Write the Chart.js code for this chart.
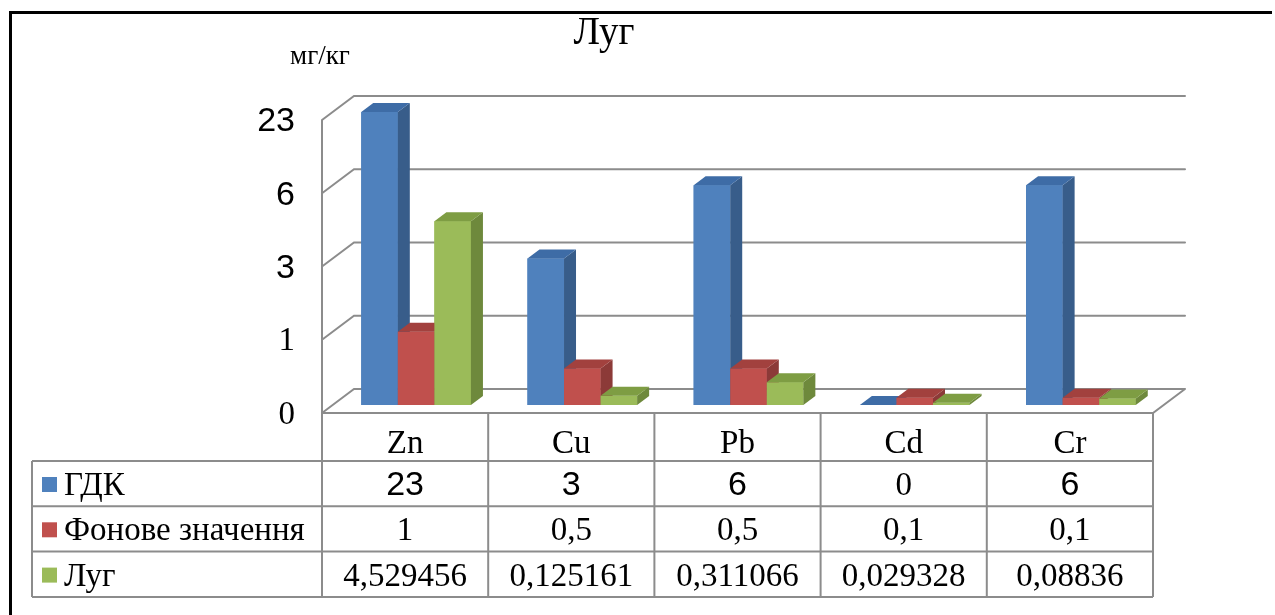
<!DOCTYPE html>
<html lang="uk">
<head>
<meta charset="utf-8">
<title>Луг</title>
<script src="https://cdn.jsdelivr.net/npm/chart.js@4.4.1/dist/chart.umd.min.js"></script>
<style>
  html, body { margin: 0; padding: 0; background: #ffffff; }
  #wrap { width: 1275px; height: 615px; position: relative; }
  canvas { display: block; }
</style>
</head>
<body>
<div id="wrap"><canvas id="chart" width="1275" height="615"></canvas></div>
<script>
// ---- data ----
const categories = ['Zn', 'Cu', 'Pb', 'Cd', 'Cr'];
const seriesNames = ['ГДК', 'Фонове значення', 'Луг'];
const gdk = [23, 3, 6, 0, 6];
const background = [1, 0.5, 0.5, 0.1, 0.1];
const meadow = [4.529456, 0.125161, 0.311066, 0.029328, 0.08836];
const yTickValues = [0, 1, 3, 6, 23];
const chartTitle = 'Луг';
const unitLabel = 'мг/кг';

// ---- styling ----
const SERIF = '"Liberation Serif", "Times New Roman", serif';
const SANS = '"Liberation Sans", Arial, sans-serif';
const faces = [
  { front: '#4F81BD', side: '#385D8A', top: '#3E6CA6' },
  { front: '#C0504D', side: '#8C3A38', top: '#A2413E' },
  { front: '#9BBB59', side: '#6E893C', top: '#7E9D43' }
];
const GRID = '#8C8C8C';
const FLOOR_DEPTH = { dx: 32, dy: -24 };   // front edge -> back wall
const FRONT_SHIFT = { dx: -11, dy: 8 };    // bar plane -> front edge
const BAR_DEPTH = { dx: 12, dy: -9 };      // thickness of each column
// ГДК row: the whole numbers in this row are set in a sans face
const gdkCellFonts = ['sans', 'sans', 'sans', 'serif', 'sans'];
// value-axis labels: upper three in a sans face, lower two in serif
const yTickFonts = ['serif', 'serif', 'sans', 'sans', 'sans'];

function fmt(v) { return String(v).replace('.', ','); }

// ---- value axis with evenly spaced, irregular steps 0-1-3-6-23 ----
function toLevel(v) {
  if (v <= yTickValues[0]) return 0;
  for (let i = 1; i < yTickValues.length; i++) {
    if (v <= yTickValues[i]) {
      const a = yTickValues[i - 1], b = yTickValues[i];
      return i - 1 + (v - a) / (b - a);
    }
  }
  return yTickValues.length - 1;
}
function fromLevel(l) {
  const i = Math.max(0, Math.min(yTickValues.length - 2, Math.floor(l)));
  const a = yTickValues[i], b = yTickValues[i + 1];
  return a + (l - i) * (b - a);
}
class SteppedScale extends Chart.LinearScale {
  determineDataLimits() { this.min = 0; this.max = yTickValues.length - 1; }
  buildTicks() { return yTickValues.map(v => ({ value: v })); }
  getPixelForValue(v) { return super.getPixelForValue(toLevel(v)); }
  getValueForPixel(p) { return fromLevel(super.getValueForPixel(p)); }
}
SteppedScale.id = 'stepped';
SteppedScale.defaults = {};
Chart.register(SteppedScale);

// ---- walls, floor and gridlines ----
const wallsPlugin = {
  id: 'walls',
  beforeDatasetsDraw(chart) {
    const { ctx, chartArea } = chart;
    const y = chart.scales.y;
    const fx0 = chartArea.left + FRONT_SHIFT.dx;
    const fx1 = chartArea.right + FRONT_SHIFT.dx;
    ctx.save();
    ctx.strokeStyle = GRID;
    ctx.lineWidth = 2;
    ctx.lineCap = 'round';
    ctx.beginPath();
    yTickValues.forEach(v => {
      const fy = y.getPixelForValue(v) + FRONT_SHIFT.dy;
      ctx.moveTo(fx0, fy);
      ctx.lineTo(fx0 + FLOOR_DEPTH.dx, fy + FLOOR_DEPTH.dy);
      ctx.lineTo(fx1 + FLOOR_DEPTH.dx, fy + FLOOR_DEPTH.dy);
    });
    const fTop = y.getPixelForValue(yTickValues[yTickValues.length - 1]) + FRONT_SHIFT.dy;
    const fBot = y.getPixelForValue(0) + FRONT_SHIFT.dy;
    ctx.moveTo(fx0, fTop);
    ctx.lineTo(fx0, fBot);
    ctx.lineTo(fx1, fBot);
    ctx.lineTo(fx1 + FLOOR_DEPTH.dx, fBot + FLOOR_DEPTH.dy);
    ctx.stroke();
    ctx.restore();
  }
};

// ---- 3D column faces, drawn left to right so nearer faces cover ----
const columnsPlugin = {
  id: 'columns3d',
  afterDatasetsDraw(chart) {
    const { ctx } = chart;
    const metas = chart.data.datasets.map((_, d) => chart.getDatasetMeta(d));
    ctx.save();
    for (let i = 0; i < categories.length; i++) {
      metas.forEach((meta, d) => {
        const bar = meta.data[i];
        if (!bar) return;
        const p = bar.getProps(['x', 'y', 'base', 'width'], true);
        const l = p.x - p.width / 2, r = p.x + p.width / 2;
        const top = Math.min(p.y, p.base), bot = p.base;
        const c = faces[d];
        ctx.fillStyle = c.front;
        ctx.fillRect(l, top, r - l, bot - top);
        ctx.fillStyle = c.side;
        ctx.beginPath();
        ctx.moveTo(r, top);
        ctx.lineTo(r + BAR_DEPTH.dx, top + BAR_DEPTH.dy);
        ctx.lineTo(r + BAR_DEPTH.dx, bot + BAR_DEPTH.dy);
        ctx.lineTo(r, bot);
        ctx.closePath();
        ctx.fill();
        ctx.fillStyle = c.top;
        ctx.beginPath();
        ctx.moveTo(l, top);
        ctx.lineTo(l + BAR_DEPTH.dx, top + BAR_DEPTH.dy);
        ctx.lineTo(r + BAR_DEPTH.dx, top + BAR_DEPTH.dy);
        ctx.lineTo(r, top);
        ctx.closePath();
        ctx.fill();
      });
    }
    ctx.restore();
  }
};

// ---- title, unit, frame and data table ----
const tablePlugin = {
  id: 'dataTable',
  afterDraw(chart) {
    const { ctx } = chart;
    const x = chart.scales.x;
    const y = chart.scales.y;
    ctx.save();

    // frame
    ctx.fillStyle = '#000';
    ctx.fillRect(9, 11, 1263, 3);
    ctx.fillRect(9, 11, 3, 604);

    // title and unit
    ctx.fillStyle = '#000';
    ctx.textAlign = 'center';
    ctx.textBaseline = 'alphabetic';
    ctx.font = '39px ' + SERIF;
    ctx.fillText(chartTitle, 604, 44);
    ctx.font = '27px ' + SERIF;
    ctx.fillText(unitLabel, 320, 64);

    // table geometry from the category scale
    const step = x.getPixelForValue(1) - x.getPixelForValue(0);
    const centers = categories.map((_, i) => x.getPixelForValue(i) + FRONT_SHIFT.dx);
    const colLeft = centers[0] - step / 2;
    const colRight = centers[centers.length - 1] + step / 2;
    const headTop = y.getPixelForValue(0) + FRONT_SHIFT.dy;
    const headH = 48, rowH = 45.3;
    const labelLeft = 32;
    const rowTops = seriesNames.map((_, r) => headTop + headH + r * rowH);
    const tableBottom = headTop + headH + seriesNames.length * rowH;

    ctx.strokeStyle = GRID;
    ctx.lineWidth = 2;
    ctx.beginPath();
    for (let i = 0; i <= categories.length; i++) {
      const cx = colLeft + i * step;
      ctx.moveTo(cx, headTop);
      ctx.lineTo(cx, tableBottom);
    }
    rowTops.concat([tableBottom]).forEach(ry => {
      ctx.moveTo(labelLeft, ry);
      ctx.lineTo(colRight, ry);
    });
    ctx.moveTo(labelLeft, rowTops[0]);
    ctx.lineTo(labelLeft, tableBottom);
    ctx.stroke();

    ctx.fillStyle = '#000';
    ctx.textAlign = 'center';
    ctx.font = '33px ' + SERIF;
    categories.forEach((c, i) => ctx.fillText(c, centers[i], headTop + 40));

    const rows = [gdk, background, meadow];
    rows.forEach((vals, r) => {
      const base = rowTops[r] + 34;
      // legend key and series name
      ctx.fillStyle = faces[r].front;
      ctx.fillRect(42, rowTops[r] + 16, 15, 15);
      ctx.fillStyle = '#000';
      ctx.textAlign = 'left';
      ctx.font = '33px ' + SERIF;
      ctx.fillText(seriesNames[r], 64, base);
      ctx.textAlign = 'center';
      vals.forEach((v, i) => {
        const sans = r === 0 && gdkCellFonts[i] === 'sans';
        ctx.font = sans ? '34px ' + SANS : '33px ' + SERIF;
        ctx.fillText(fmt(v), centers[i], base);
      });
    });
    ctx.restore();
  }
};

new Chart(document.getElementById('chart'), {
  type: 'bar',
  data: {
    labels: categories,
    datasets: [
      { label: seriesNames[0], data: gdk, backgroundColor: faces[0].front },
      { label: seriesNames[1], data: background, backgroundColor: faces[1].front },
      { label: seriesNames[2], data: meadow, backgroundColor: faces[2].front }
    ]
  },
  options: {
    responsive: false,
    devicePixelRatio: 1,
    animation: false,
    events: [],
    layout: { padding: { left: 0, right: 111, top: 112, bottom: 210 } },
    datasets: { bar: { categoryPercentage: 0.66, barPercentage: 1.0, borderWidth: 0 } },
    plugins: { legend: { display: false }, title: { display: false }, tooltip: { enabled: false } },
    scales: {
      x: { type: 'category', display: false, offset: true },
      y: {
        type: 'stepped',
        position: 'left',
        grid: { display: false, drawTicks: false },
        border: { display: false },
        afterFit(scale) { scale.width = 333; },
        ticks: {
          autoSkip: false,
          padding: 38,
          labelOffset: 10,
          color: '#000',
          callback: v => String(v),
          font: ctx => (yTickFonts[ctx.index] === 'sans')
            ? { family: SANS, size: 34 }
            : { family: SERIF, size: 33 }
        }
      }
    }
  },
  plugins: [wallsPlugin, columnsPlugin, tablePlugin]
});
</script>
</body>
</html>
